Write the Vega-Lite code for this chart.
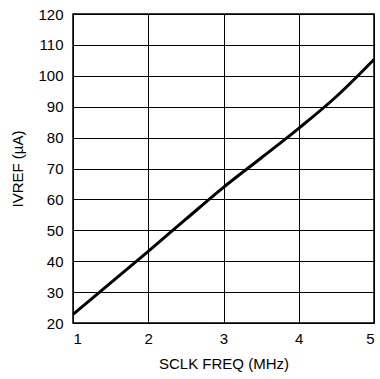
{
  "$schema": "https://vega.github.io/schema/vega-lite/v6.json",
  "width": 301,
  "height": 309,
  "autosize": {"type": "none"},
  "padding": {"left": 73, "top": 14, "right": 6, "bottom": 56},
  "background": "white",
  "data": {"values": [
    {"f": 1.0, "i": 22.8},
    {"f": 1.5, "i": 33.0},
    {"f": 2.0, "i": 43.2},
    {"f": 2.5, "i": 53.6},
    {"f": 3.0, "i": 63.9},
    {"f": 3.5, "i": 73.4},
    {"f": 4.0, "i": 83.0},
    {"f": 4.5, "i": 93.3},
    {"f": 5.0, "i": 105.3}
  ]},
  "mark": {"type": "line", "color": "black", "strokeWidth": 3, "interpolate": "monotone"},
  "encoding": {
    "x": {
      "field": "f", "type": "quantitative",
      "scale": {"domain": [1, 5], "nice": false, "zero": false},
      "axis": {"title": "SCLK FREQ (MHz)", "values": [1, 2, 3, 4, 5], "format": "d", "labelOverlap": false}
    },
    "y": {
      "field": "i", "type": "quantitative",
      "scale": {"domain": [20, 120], "nice": false, "zero": false},
      "axis": {"title": "IVREF (µA)", "values": [20, 30, 40, 50, 60, 70, 80, 90, 100, 110, 120], "titlePadding": 12, "labelOverlap": false}
    }
  },
  "config": {
    "font": "Liberation Sans",
    "view": {"stroke": "black", "strokeWidth": 1.5},
    "axis": {
      "domain": false,
      "ticks": false,
      "grid": true,
      "gridColor": "black",
      "gridOpacity": 1,
      "gridWidth": 1,
      "labelFont": "Liberation Sans",
      "labelFontSize": 15,
      "labelColor": "black",
      "titleFont": "Liberation Sans",
      "titleFontSize": 15,
      "titleFontWeight": "normal",
      "titleColor": "black",
      "labelPadding": 8
    },
    "axisX": {"labelPadding": 8, "titlePadding": 10},
    "axisY": {"labelPadding": 10}
  }
}
